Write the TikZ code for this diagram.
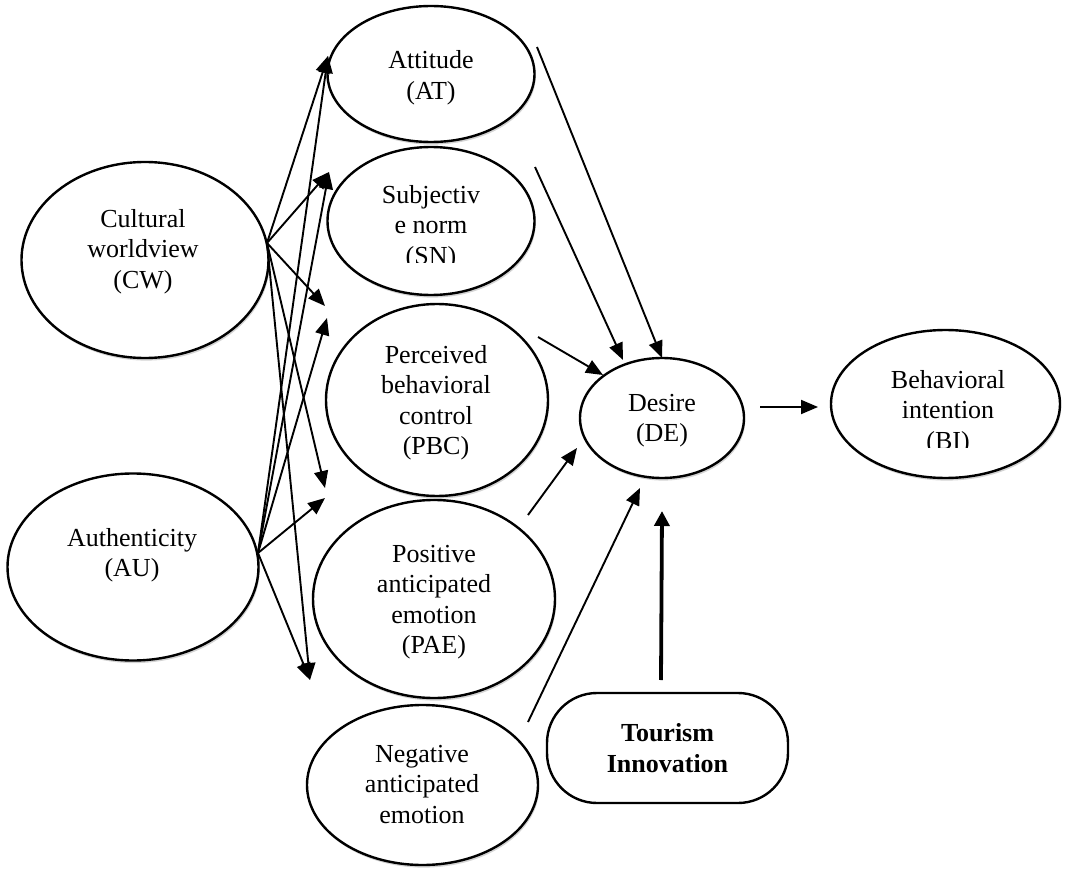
\documentclass[tikz,border=0pt]{standalone}
\usepackage{fontspec}
\setmainfont{Liberation Serif}
\usetikzlibrary{arrows.meta,shapes.geometric,shadows}
\begin{document}
\begin{tikzpicture}[x=1pt,y=-1pt,
  ell/.style={draw, ellipse, line width=2.4pt, fill=white, inner sep=0pt,
    drop shadow={shadow xshift=1.2pt, shadow yshift=-2.6pt, opacity=0.35}},
  lbl/.style={align=center, inner sep=0pt, anchor=north, font=\fontsize{26}{30.5}\selectfont},
  arr/.style={line width=1.9pt, -{Triangle[length=17pt,width=14pt]}},
  thickarr/.style={line width=3.8pt, -{Triangle[length=15pt,width=15pt]}},
  tibox/.style={draw, rounded corners=50pt, line width=2.4pt, align=center, inner sep=0pt,
    font=\fontsize{26}{30.5}\selectfont\bfseries}
]
\useasboundingbox (0,0) rectangle (1066,869);

% ellipses
\node[ell, minimum width=207pt, minimum height=136pt] (AT) at (431,74) {};
\node[ell, minimum width=207pt, minimum height=148pt] (SN) at (431,221) {};
\node[ell, minimum width=222pt, minimum height=192pt] (PBC) at (437,400) {};
\node[ell, minimum width=242pt, minimum height=198pt] (PAE) at (434,599) {};
\node[ell, minimum width=231pt, minimum height=160pt] (NAE) at (422.5,785) {};
\node[ell, minimum width=247pt, minimum height=196pt] (CW) at (145,260) {};
\node[ell, minimum width=251pt, minimum height=187pt] (AU) at (133,567) {};
\node[ell, minimum width=164pt, minimum height=120pt] (DE) at (662,418) {};
\node[ell, minimum width=229pt, minimum height=148pt] (BI) at (945.5,404) {};
\node[tibox, minimum width=241pt, minimum height=110pt] (TI) at (667.5,748) {Tourism\\Innovation};

% texts
\node[lbl] (ATt) at (431,50.5) {Attitude\\(AT)};
\begin{scope}
  \clip (370,150) rectangle (495,263);
  \node[lbl] (SNt) at (431,185) {Subjectiv\\e norm\\(SN)};
\end{scope}
\node[lbl] (PBCt) at (436,345) {Perceived\\behavioral\\control\\(PBC)};
\node[lbl] (PAEt) at (434,545) {Positive\\anticipated\\emotion\\(PAE)};
\node[lbl] (NAEt) at (422,745) {Negative\\anticipated\\emotion};
\node[lbl] (CWt) at (143,209) {Cultural\\worldview\\(CW)};
\node[lbl] (AUt) at (132,528) {Authenticity\\(AU)};
\node[lbl] (DEt) at (662,394) {Desire\\(DE)};
\begin{scope}
  \clip (870,340) rectangle (1030,447);
  \node[lbl] (BIt) at (948,370) {Behavioral\\intention\\(BI)};
\end{scope}

% connector end points
\coordinate (cwo) at (267,243);
\coordinate (auo) at (258,553);
\coordinate (tAT) at (328,56);
\coordinate (tSN) at (329,172);
\coordinate (tPBCa) at (325,306);
\coordinate (tPBCb) at (327,318);
\coordinate (tPAEa) at (325,488);
\coordinate (tPAEb) at (325,498);
\coordinate (tNAE) at (310,680);

\coordinate (atD) at (537,47);   \coordinate (atDe) at (662,358);
\coordinate (snD) at (535,167);  \coordinate (snDe) at (623,360);
\coordinate (pbcD) at (538,337); \coordinate (pbcDe) at (603,375);
\coordinate (paeD) at (528,515); \coordinate (paeDe) at (577,448);
\coordinate (naeD) at (528,722); \coordinate (naeDe) at (640,488);
\coordinate (tiD) at (661,680);  \coordinate (tiDe) at (662,511);
\coordinate (deB) at (760,407);  \coordinate (deBe) at (818,407);

% CW arrows
\draw[arr] (cwo) -- (tAT);
\draw[arr] (cwo) -- (tSN);
\draw[arr] (cwo) -- (tPBCa);
\draw[arr] (cwo) -- (tPAEa);
\draw[arr] (cwo) -- (tNAE);
% AU arrows
\draw[arr] (auo) -- (tAT);
\draw[arr] (auo) -- (tSN);
\draw[arr] (auo) -- (tPBCb);
\draw[arr] (auo) -- (tPAEb);
\draw[arr] (auo) -- (tNAE);
% to Desire
\draw[arr] (atD) -- (atDe);
\draw[arr] (snD) -- (snDe);
\draw[arr] (pbcD) -- (pbcDe);
\draw[arr] (paeD) -- (paeDe);
\draw[arr] (naeD) -- (naeDe);
\draw[thickarr] (tiD) -- (tiDe);
\draw[arr] (deB) -- (deBe);
\end{tikzpicture}
\end{document}
